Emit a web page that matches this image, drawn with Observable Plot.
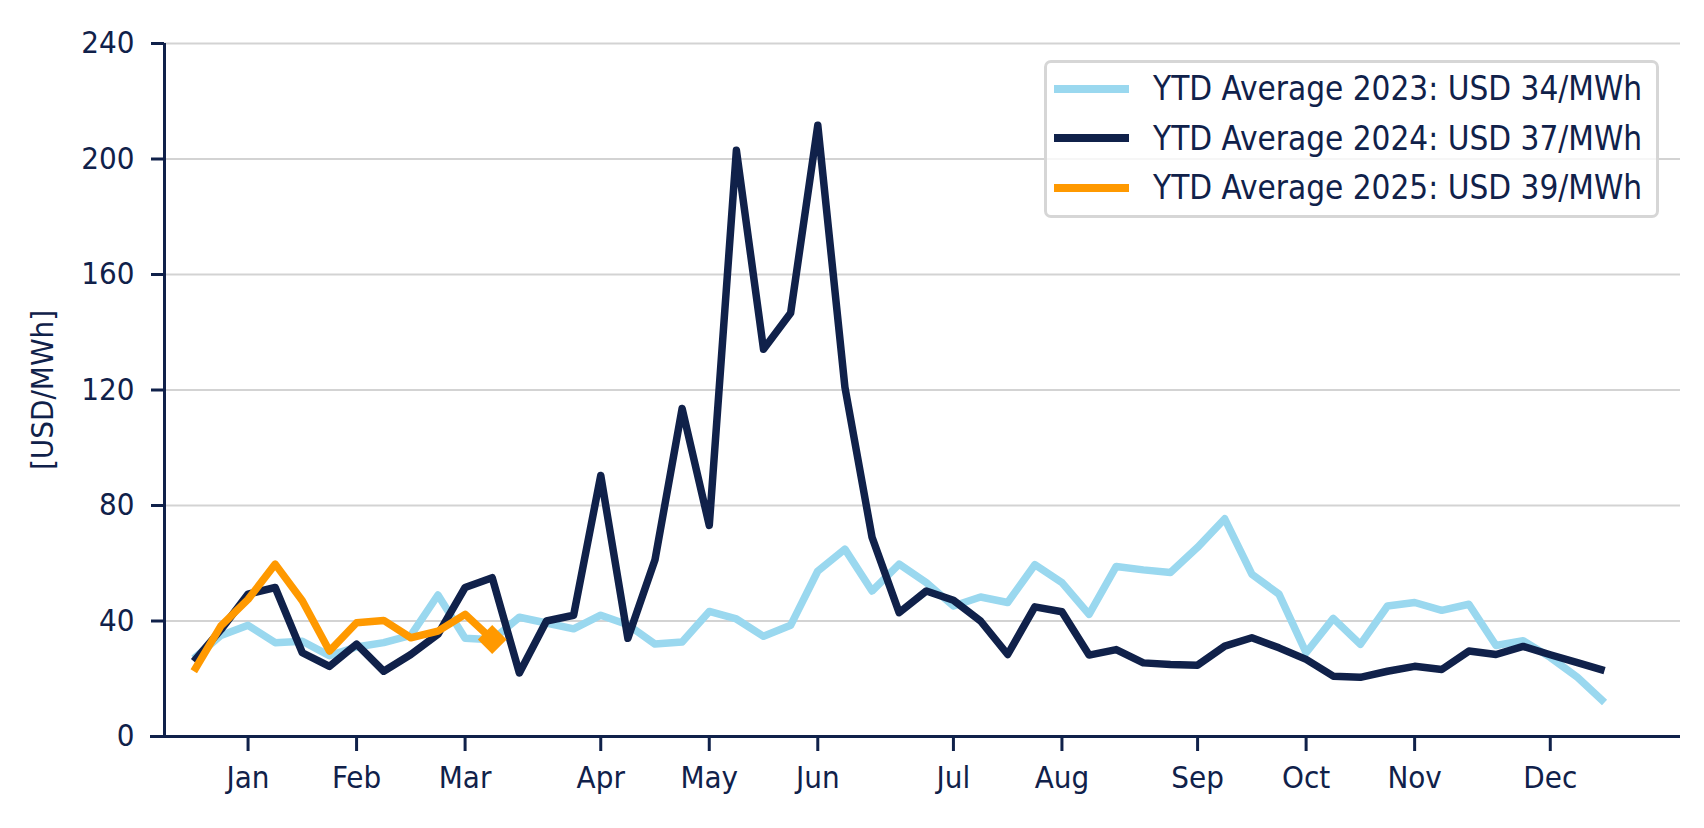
<!DOCTYPE html>
<html><head><meta charset="utf-8">
<script src="https://cdn.jsdelivr.net/npm/d3@7"></script>
<script src="https://cdn.jsdelivr.net/npm/@observablehq/plot@0.6"></script>
<style>
html,body{margin:0;padding:0;background:#fff;}
#wrap{position:relative;width:1704px;height:828px;font-family:"DejaVu Sans Condensed","DejaVu Sans",sans-serif;color:#10214a;}
#legend{position:absolute;left:1044px;top:60px;width:615px;height:158px;box-sizing:border-box;border:3px solid #d6d6d6;border-radius:7px;background:rgba(255,255,255,0.8);padding:1px 0 0 7px;}
.row{height:49.5px;display:flex;align-items:center;}
.sw{width:75px;height:8px;margin-right:24px;flex:none;}
.lt{font-size:33px;line-height:1;white-space:nowrap;}
</style></head><body>
<div id="wrap"><div id="chart"></div><div id="legend"></div></div>
<script>
// Weekly observations (week index 0..52)
const prices2023 = [27, 35, 38.5, 32.5, 33, 28, 31, 32.5, 35, 49, 34, 33.5, 41.3, 39.3, 37.3, 42, 38.7, 32, 32.7, 43.3, 40.7, 34.7, 38.5, 57.3, 64.9, 50.4, 59.7, 53.3, 45.2, 48.3, 46.4, 59.5, 53.3, 42.3, 58.9, 57.7, 56.8, 65.5, 75.4, 56.2, 49.3, 29, 40.9, 31.9, 45.2, 46.4, 43.7, 45.8, 31.5, 33.2, 27.4, 20.5, 11.8];
const prices2024 = [26, 37, 49.3, 51.6, 29, 24.3, 32, 22.6, 28.4, 35.4, 51.6, 55, 22, 40, 42, 90.4, 34, 61.2, 113.6, 73.1, 203, 134.1, 146.7, 211.7, 121, 69, 42.9, 50.4, 47.2, 40, 28.4, 44.9, 43.2, 28.2, 30.1, 25.5, 24.9, 24.7, 31.3, 34.2, 30.7, 26.7, 20.9, 20.5, 22.6, 24.3, 23.2, 29.6, 28.4, 31.2, 28.3, 25.6, 22.8];
const prices2025 = [22.6, 38.3, 47.5, 59.7, 47, 29.6, 39.4, 40.2, 34.2, 36.5, 42.3, 33.6];

const seriesNames = ["YTD Average 2023: USD 34/MWh", "YTD Average 2024: USD 37/MWh", "YTD Average 2025: USD 39/MWh"];
const seriesColors = ["#9ad8ef", "#10214a", "#ff9900"];

const monthTickWeeks = [2, 6, 10, 15, 19, 23, 28, 32, 37, 41, 45, 50];
const monthLabels = ["Jan", "Feb", "Mar", "Apr", "May", "Jun", "Jul", "Aug", "Sep", "Oct", "Nov", "Dec"];
const yTicks = [0, 40, 80, 120, 160, 200, 240];

const xDomain = [-1.08, 54.8];
const yDomain = [0, 240];
const navy = "#10214a";

const toRows = arr => arr.map((v, i) => ({week: i, value: v}));
const d2023 = toRows(prices2023), d2024 = toRows(prices2024), d2025 = toRows(prices2025);
const lastPoint = d2025[d2025.length - 1];

const lineOpts = (c) => ({x: "week", y: "value", stroke: c, strokeWidth: 7.5, strokeLinecap: "butt", strokeLinejoin: "round"});

const chart = Plot.plot({
  width: 1704, height: 828,
  marginLeft: 164, marginRight: 24, marginTop: 43, marginBottom: 92,
  style: {fontFamily: '"DejaVu Sans Condensed","DejaVu Sans",sans-serif', color: navy, background: "white"},
  x: {domain: xDomain},
  y: {domain: yDomain},
  marks: [
    Plot.gridY(yTicks, {stroke: "#d3d3d3", strokeOpacity: 1, strokeWidth: 2}),
    Plot.axisY(yTicks, {tickSize: 13, tickPadding: 17, fontSize: 31, strokeWidth: 3, label: "[USD/MWh]", labelAnchor: "center", labelOffset: 134, labelArrow: "none"}),
    Plot.axisX(monthTickWeeks, {tickSize: 15, tickPadding: 14, fontSize: 31, strokeWidth: 3, tickFormat: (d, i) => monthLabels[i], label: null}),
    Plot.ruleX([xDomain[0]], {y1: yDomain[0], y2: yDomain[1], stroke: navy, strokeWidth: 3}),
    Plot.ruleY([0], {stroke: navy, strokeWidth: 3, insetLeft: -14}),
    Plot.line(d2023, lineOpts(seriesColors[0])),
    Plot.line(d2024, lineOpts(seriesColors[1])),
    Plot.line(d2025, lineOpts(seriesColors[2])),
    Plot.dot([lastPoint], {x: "week", y: "value", symbol: "diamond2", r: 13, fill: seriesColors[2], stroke: "none"})
  ]
});
document.getElementById("chart").appendChild(chart);

const legend = document.getElementById("legend");
seriesNames.forEach((name, i) => {
  const row = document.createElement("div");
  row.className = "row";
  const sw = document.createElement("div");
  sw.className = "sw";
  sw.style.background = seriesColors[i];
  const t = document.createElement("span");
  t.className = "lt";
  t.textContent = name;
  row.appendChild(sw); row.appendChild(t);
  legend.appendChild(row);
});
</script>
</body></html>
